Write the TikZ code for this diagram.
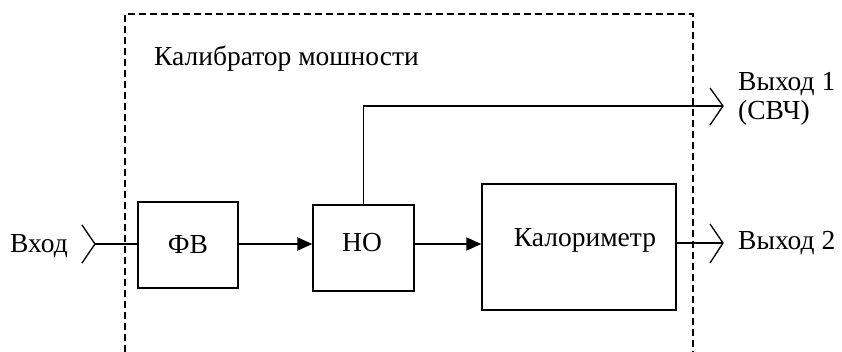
\documentclass[tikz,border=0pt]{standalone}
\usepackage{fontspec}
\setmainfont{Liberation Serif}
\usetikzlibrary{arrows.meta}
\begin{document}
\begin{tikzpicture}[x=1pt,y=-1pt,
  box/.style={draw,line width=1.4pt,inner sep=0pt},
  flow/.style={line width=2pt,-{Triangle[length=15pt,width=13pt]}},
  wire/.style={line width=1.3pt},
  frame/.style={line width=1.3pt,dash pattern=on 7pt off 4pt},
  lbl/.style={font=\fontsize{27.5}{33}\selectfont,inner sep=0pt}]
\useasboundingbox (0,0) rectangle (842,352);
% dashed frame
\draw[frame] (125,352) -- (125,14) -- (693,14) -- (693,352);
\node[lbl,anchor=base west] (title) at (154,66) {Калибратор мошности};
% blocks
\node[box,minimum width=100pt,minimum height=86pt] (fv) at (188,245) {};
\node[lbl,anchor=base] (fvt) at (188,254) {ФВ};
\node[box,minimum width=101pt,minimum height=86pt] (no) at (363.5,248) {};
\node[lbl,anchor=base] (not) at (362,252) {НО};
\node[box,minimum width=194pt,minimum height=126pt] (kal) at (579,247) {};
\node[lbl,anchor=base] (kalt) at (585,247) {Калориметр};
% input
\node[lbl,anchor=base west] (vhod) at (10,253) {Вход};
\coordinate (inTip) at (95,244);
\coordinate (inTop) at (82,225);
\coordinate (inBot) at (82,263);
\draw[wire] (inTop) -- (inTip) -- (inBot);
\draw[wire] (inTip) -- (fv.west |- inTip);
% flows
\draw[flow] (fv.east |- 0,244) -- (no.west |- 0,244);
\draw[flow] (no.east |- 0,244) -- (kal.west |- 0,244);
% output 1
\coordinate (o1Tip) at (723,106);
\coordinate (o1Top) at (710,88);
\coordinate (o1Bot) at (710,125);
\draw[wire] (no.north) -- (no.north |- o1Tip) -- (o1Tip);
\draw[wire] (o1Top) -- (o1Tip) -- (o1Bot);
\node[lbl,anchor=base west] (out1) at (738,90.5) {Выход 1};
\node[lbl,anchor=base west] (svch) at (738,120) {(СВЧ)};
% output 2
\coordinate (o2Tip) at (723,243);
\coordinate (o2Top) at (710,224);
\coordinate (o2Bot) at (710,263);
\draw[wire] (kal.east |- o2Tip) -- (o2Tip);
\draw[wire] (o2Top) -- (o2Tip) -- (o2Bot);
\node[lbl,anchor=base west] (out2) at (738,250) {Выход 2};
\end{tikzpicture}
\end{document}
